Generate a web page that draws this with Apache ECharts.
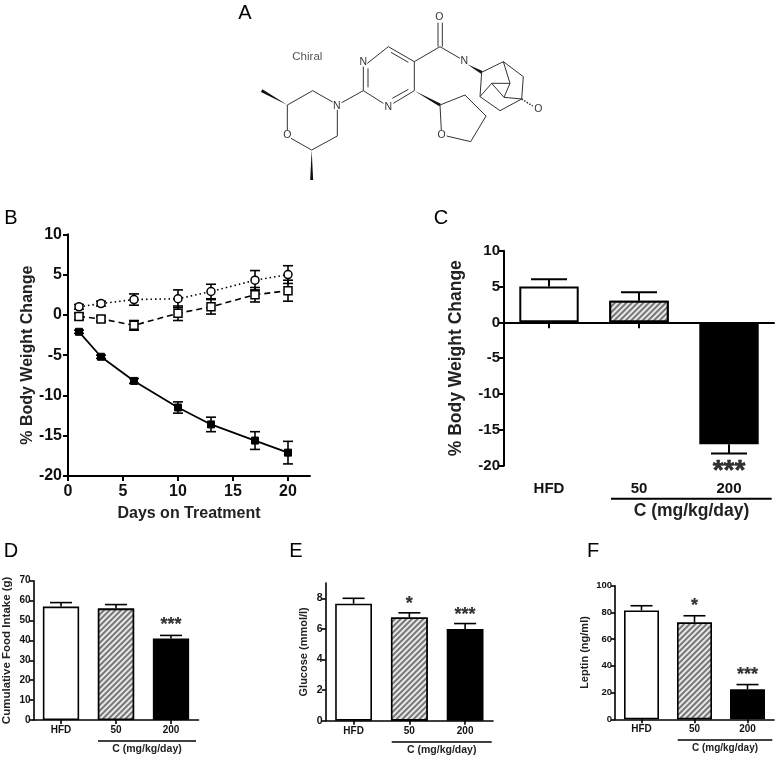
<!DOCTYPE html>
<html><head><meta charset="utf-8">
<style>html,body{margin:0;padding:0;background:#fff}#c{width:777px;height:758px}</style>
<script src="https://cdn.jsdelivr.net/npm/echarts@6/dist/echarts.min.js"></script>
</head><body><div id="c"></div>
<script>
// ---------- data ----------
const days = [1, 3, 6, 10, 13, 17, 20];
const hfdMean = [1.0, 1.4, 1.9, 2.0, 2.9, 4.3, 5.0];
const hfdErr = [0.3, 0.3, 0.7, 1.1, 0.9, 1.2, 1.1];
const dose50Mean = [-0.2, -0.5, -1.3, 0.2, 1.0, 2.5, 3.0];
const dose50Err = [0.4, 0.3, 0.6, 0.9, 0.9, 0.9, 1.3];
const dose200Mean = [-2.1, -5.2, -8.2, -11.5, -13.6, -15.6, -17.1];
const dose200Err = [0.2, 0.2, 0.3, 0.7, 0.9, 1.1, 1.4];

const groups = ['HFD', '50', '200'];
const weightVals = [5, 3, -17];
const weightErr = [1, 1.2, 1.3];
const foodVals = [57, 56, 41];
const foodErr = [2, 2, 1.5];
const glucoseVals = [7.65, 6.75, 6.0];
const glucoseErr = [0.35, 0.3, 0.35];
const leptinVals = [81.5, 72.5, 22.5];
const leptinErr = [3.5, 5, 3.5];

const weightStars = [[2, -20, '***']];
const foodStars = [[2, 49, '***']];
const glucoseStars = [[1, 7.84, '*'], [2, 7.1, '***']];
const leptinStars = [[1, 87, '*'], [2, 35.4, '***']];

// ---------- helpers ----------
const FONT = '"Liberation Sans", Arial, sans-serif';
const INK = '#111';
const hatch = {
  color: '#fff',
  decal: { symbol: 'rect', symbolSize: 1, dashArrayX: [1, 0], dashArrayY: [1.2, 2], rotation: -Math.PI / 4, color: '#777', backgroundColor: '#e8e8e8' }
};
const fills = [{ color: '#fff' }, hatch, { color: '#000' }];

const grids = [], xAxes = [], yAxes = [], series = [];

function errorSeries(gridIdx, rows, cap, lw, bothSides, z) {
  return {
    type: 'custom', xAxisIndex: gridIdx, yAxisIndex: gridIdx, z: z || 5, silent: true,
    data: rows,
    encode: { x: 0, y: 1 },
    renderItem(params, api) {
      const x = api.value(0), y = api.value(1), e = api.value(2);
      const sign = y < 0 ? -1 : 1;
      const far = api.coord([x, y + sign * e]);
      const near = bothSides ? api.coord([x, y - sign * e]) : api.coord([x, y]);
      const st = { stroke: '#000', lineWidth: lw };
      const kids = [
        { type: 'line', shape: { x1: far[0], y1: far[1], x2: near[0], y2: near[1] }, style: st },
        { type: 'line', shape: { x1: far[0] - cap / 2, y1: far[1], x2: far[0] + cap / 2, y2: far[1] }, style: st }
      ];
      if (bothSides) kids.push({ type: 'line', shape: { x1: near[0] - cap / 2, y1: near[1], x2: near[0] + cap / 2, y2: near[1] }, style: st });
      return { type: 'group', children: kids };
    }
  };
}

function valueAxis(gridIdx, o) {
  return {
    type: 'value', gridIndex: gridIdx, min: o.min, max: o.max, interval: o.interval,
    name: o.name, nameLocation: 'middle', nameGap: o.nameGap, nameRotate: 90, nameMoveOverlap: false,
    nameTextStyle: { fontFamily: FONT, fontWeight: 'bold', fontSize: o.nameSize, color: '#222' },
    axisLine: { show: true, lineStyle: { color: '#000', width: o.lw } },
    axisTick: { show: true, length: o.tick, lineStyle: { color: '#000', width: o.lw }, customValues: o.ticks },
    axisLabel: { fontFamily: FONT, fontWeight: 'bold', fontSize: o.size, color: INK, margin: o.margin, customValues: o.ticks },
    splitLine: { show: false }
  };
}

function barPanel(idx, g, o) {
  grids.push({ left: g[0], top: g[1], width: g[2], height: g[3], outerBoundsMode: 'none' });
  xAxes.push({
    type: 'category', gridIndex: idx, data: groups,
    axisLine: { show: true, onZero: true, lineStyle: { color: '#000', width: o.lw } },
    axisTick: { show: true, alignWithLabel: true, length: o.xTick, lineStyle: { color: '#000', width: o.lw } },
    axisLabel: { show: !o.bottomLabels, fontFamily: FONT, fontWeight: 'bold', fontSize: o.xSize, color: INK, margin: o.xMargin, interval: 0 }
  });
  yAxes.push(valueAxis(idx, o));
  series.push({
    type: 'bar', xAxisIndex: idx, yAxisIndex: idx, barWidth: '66%', z: 3, silent: true,
    data: o.vals.map((v, i) => ({ value: v, itemStyle: Object.assign({ borderColor: '#000', borderWidth: o.lw }, fills[i]) }))
  });
  series.push(errorSeries(idx, o.vals.map((v, i) => [groups[i], v, o.errs[i]]), o.cap, o.lw, false, 2));
  series.push({
    type: 'scatter', xAxisIndex: idx, yAxisIndex: idx, symbolSize: 0, silent: true, z: 6,
    data: o.stars.map(s => [groups[s[0]], s[1], s[2]]),
    label: {
      show: true, position: 'inside', offset: [0, o.starDy], formatter: p => p.value[2],
      fontFamily: FONT, fontWeight: 'bold', fontSize: o.starSize, color: '#000', textBorderColor: '#000', textBorderWidth: o.starBorder
    }
  });
}

// ---------- panel B ----------
grids.push({ left: 68, top: 234.3, width: 242, height: 241.7, outerBoundsMode: 'none' });
xAxes.push({
  type: 'value', gridIndex: 0, min: 0, max: 22, interval: 5,
  name: 'Days on Treatment', nameLocation: 'middle', nameGap: 30, nameMoveOverlap: false,
  nameTextStyle: { fontFamily: FONT, fontWeight: 'bold', fontSize: 16, color: '#222' },
  axisLine: { show: true, onZero: false, lineStyle: { color: '#000', width: 2 } },
  axisTick: { show: true, length: 5, lineStyle: { color: '#000', width: 2 }, customValues: [0, 5, 10, 15, 20] },
  axisLabel: { fontFamily: FONT, fontWeight: 'bold', fontSize: 16, color: INK, margin: 8, customValues: [0, 5, 10, 15, 20] },
  splitLine: { show: false }
});
yAxes.push(valueAxis(0, { min: -20, max: 10, interval: 5, name: '% Body Weight Change', nameGap: 32, nameSize: 16, lw: 2, tick: 5, size: 16, margin: 6 }));
const pts = (m) => days.map((d, i) => [d, m[i]]);
const rows = (m, e) => days.map((d, i) => [d, m[i], e[i]]);
series.push(errorSeries(0, rows(hfdMean, hfdErr), 10, 1.6, true, 2));
series.push(errorSeries(0, rows(dose50Mean, dose50Err), 10, 1.6, true, 2));
series.push(errorSeries(0, rows(dose200Mean, dose200Err), 10, 1.6, true, 2));
series.push({ type: 'line', xAxisIndex: 0, yAxisIndex: 0, data: pts(hfdMean), symbol: 'circle', symbolSize: 8, z: 4, silent: true,
  lineStyle: { color: '#000', width: 1.6, type: [1.5, 3] }, itemStyle: { color: '#fff', borderColor: '#000', borderWidth: 1.5 } });
series.push({ type: 'line', xAxisIndex: 0, yAxisIndex: 0, data: pts(dose50Mean), symbol: 'rect', symbolSize: 8, z: 4, silent: true,
  lineStyle: { color: '#000', width: 1.6, type: [6, 4] }, itemStyle: { color: '#fff', borderColor: '#000', borderWidth: 1.5 } });
series.push({ type: 'line', xAxisIndex: 0, yAxisIndex: 0, data: pts(dose200Mean), symbol: 'rect', symbolSize: 7, z: 4, silent: true,
  lineStyle: { color: '#000', width: 1.8 }, itemStyle: { color: '#000', borderColor: '#000' } });

// ---------- bar panels ----------
barPanel(1, [504, 250.7, 270, 215], {
  vals: weightVals, errs: weightErr, stars: weightStars, min: -20, max: 10, interval: 5, bottomLabels: true,
  name: '% Body Weight Change', nameGap: 39, nameSize: 17.5, lw: 2, tick: 6, size: 15, margin: 4,
  xTick: 6, xSize: 15, xMargin: 5, cap: 36, starSize: 28, starDy: 6, starBorder: 0.5
});
barPanel(2, [33.5, 580.7, 165, 139.3], {
  vals: foodVals, errs: foodErr, stars: foodStars, min: 0, max: 70, interval: 10,
  name: 'Cumulative Food Intake (g)', nameGap: 20.5, nameSize: 11.5, lw: 1.6, tick: 4, size: 10, margin: 3,
  xTick: 4, xSize: 10, xMargin: 5, cap: 22, starSize: 18, starDy: 3, starBorder: 0.2
});
barPanel(3, [325.7, 583, 167.3, 137.7], {
  vals: glucoseVals, errs: glucoseErr, stars: glucoseStars, min: 0, max: 9, interval: 2, ticks: [0, 2, 4, 6, 8],
  name: 'Glucose (mmol/l)', nameGap: 16.5, nameSize: 11, lw: 1.6, tick: 4, size: 10.5, margin: 3,
  xTick: 4, xSize: 10, xMargin: 6, cap: 22, starSize: 18, starDy: 3, starBorder: 0.2
});
barPanel(4, [615, 585.7, 159, 133.6], {
  vals: leptinVals, errs: leptinErr, stars: leptinStars, min: 0, max: 100, interval: 20,
  name: 'Leptin (ng/ml)', nameGap: 25, nameSize: 11, lw: 1.6, tick: 4, size: 9.5, margin: 3,
  xTick: 4, xSize: 10, xMargin: 5, cap: 22, starSize: 18, starDy: 3, starBorder: 0.2
});
// Panel C's group labels sit under the plot, away from the zero line
xAxes.push({
  type: 'category', gridIndex: 1, data: groups, position: 'bottom',
  axisLine: { show: false, onZero: false }, axisTick: { show: false },
  axisLabel: { fontFamily: FONT, fontWeight: 'bold', fontSize: 15, color: INK, margin: 16, interval: 0 }
});

// ---------- non-data drawing: panel letters, dose brackets, chemical structure ----------
const gfx = [];
function text(x, y, s, size, weight, fill, align) {
  gfx.push({ type: 'text', x, y, silent: true, style: { text: s, fontFamily: FONT, fontSize: size, fontWeight: weight || 'normal', fill: fill || '#000', align: align || 'center', verticalAlign: 'middle' } });
}
[['A', 245, 13], ['B', 11, 218], ['C', 441, 218], ['D', 11, 551], ['E', 296, 551], ['F', 593, 551]]
  .forEach(l => text(l[1], l[2], l[0], 20));

[[611, 771.7, 498.7, 691.5, 511.5, 17.5, 2], [98, 196, 741, 147, 749.5, 10.5, 1.3], [391.7, 491.7, 742, 441.7, 750, 10.5, 1.3], [677.7, 772.3, 740, 725, 748, 10, 1.3]]
  .forEach(b => {
    gfx.push({ type: 'line', silent: true, shape: { x1: b[0], y1: b[2], x2: b[1], y2: b[2] }, style: { stroke: '#000', lineWidth: b[6] } });
    text(b[3], b[4], 'C (mg/kg/day)', b[5], 'bold', '#222');
  });

const mx = x => 230 + x / 3, my = y => y / 3;
const bonds = [
  [172,315,248,272],[248,272,308,306],[322,330,322,408],[322,408,245,450],[245,450,183,415],[172,390,172,315],
  [335,308,400,272],[400,272,400,200],[414,262,414,205],[412,190,475,140],[475,140,553,185],[483,157,535,187],
  [553,185,553,272],[553,272,490,310],[535,268,487,295],[460,310,400,272],
  [553,185,630,140],[624,140,624,68],[637,140,637,68],[630,140,690,175],
  [755,217,820,185],[820,185,880,230],[880,230,875,297],[875,297,810,332],[810,332,750,290],[750,290,755,217],
  [820,185,840,250],[840,250,785,250],[785,250,750,290],[840,250,822,292],[785,250,822,292],[822,292,875,297],
  [630,315,705,285],[705,285,768,348],[768,348,722,425],[722,425,650,408],[630,315,634,390]
];
bonds.forEach(b => gfx.push({ type: 'line', silent: true, shape: { x1: mx(b[0]), y1: my(b[1]), x2: mx(b[2]), y2: my(b[3]) }, style: { stroke: '#333', lineWidth: 1 } }));
const wedges = [[172,315,95,272],[245,450,245,540],[553,272,630,315],[712,193,755,217]];
wedges.forEach(w => {
  const dx = w[2] - w[0], dy = w[3] - w[1], L = Math.hypot(dx, dy);
  const nx = -dy / L * 4.5, ny = dx / L * 4.5;
  gfx.push({ type: 'polygon', silent: true, shape: { points: [[mx(w[0]), my(w[1])], [mx(w[2] + nx), my(w[3] + ny)], [mx(w[2] - nx), my(w[3] - ny)]] }, style: { fill: '#111' } });
});
gfx.push({ type: 'line', silent: true, shape: { x1: mx(875), y1: my(297), x2: mx(908), y2: my(318) }, style: { stroke: '#333', lineWidth: 1.6, lineDash: [1.5, 1.5] } });
[['N', 400, 185], ['N', 475, 320], ['N', 320, 318], ['O', 172, 404], ['O', 635, 405], ['O', 628, 52], ['N', 703, 184], ['O', 925, 328]]
  .forEach(a => text(mx(a[1]), my(a[2]), a[0], 10.5, 'normal', '#333'));
text(mx(232), my(170), 'Chiral', 11.5, 'normal', '#555');

const chart = echarts.init(document.getElementById('c'), null, { renderer: 'canvas' });
chart.setOption({
  animation: false, backgroundColor: '#fff', aria: { enabled: false },
  grid: grids, xAxis: xAxes, yAxis: yAxes, series, graphic: { elements: gfx }
});
</script></body></html>
